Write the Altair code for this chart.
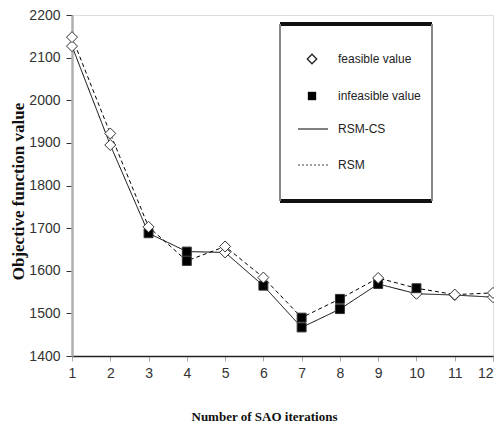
import altair as alt
import pandas as pd

iterations = list(range(1, 13))
rsm_cs_values = [2127, 1895, 1688, 1645, 1643, 1565, 1467, 1510, 1569, 1546, 1543, 1538]
rsm_cs_types = ["feasible", "feasible", "infeasible", "infeasible", "feasible", "infeasible",
                "infeasible", "infeasible", "infeasible", "feasible", "feasible", "feasible"]
rsm_values = [2148, 1922, 1703, 1623, 1657, 1584, 1490, 1534, 1583, 1559, 1544, 1548]
rsm_types = ["feasible", "feasible", "feasible", "infeasible", "feasible", "feasible",
             "infeasible", "infeasible", "feasible", "infeasible", "feasible", "feasible"]
series_names = ["RSM-CS", "RSM"]
legend_labels = ["feasible value", "infeasible value", "RSM-CS", "RSM"]
x_ticks = list(range(1, 13))
y_ticks = list(range(1400, 2201, 100))

rows = []
for it, v, t in zip(iterations, rsm_cs_values, rsm_cs_types):
    rows.append({"iter": it, "value": v, "series": "RSM-CS", "type": t})
for it, v, t in zip(iterations, rsm_values, rsm_types):
    rows.append({"iter": it, "value": v, "series": "RSM", "type": t})
df = pd.DataFrame(rows)

W, H = 421, 341

x_axis = alt.Axis(values=x_ticks, tickCount=12, title="Number of  SAO iterations", grid=False,
                  format="d", labelOverlap=False, labelFlush=False, labelBound=False,
                  labelAlign={"condition": {"test": "datum.value == 12", "value": "right"}, "value": "center"},
                  domainColor="#222", domainWidth=1.5, tickColor="#aaa", tickSize=5,
                  labelFontSize=14, labelColor="#333", labelFont="Liberation Sans",
                  labelPadding=5,
                  titleFont="Liberation Serif", titleFontWeight="bold", titleFontSize=13,
                  titleColor="#111", titleX=192, titleY=60, titleBaseline="middle")
y_axis = alt.Axis(values=y_ticks, title="Objective  function  value", grid=False,
                  format="d", labelOverlap=False,
                  domainColor="#b0b0b0", domainWidth=2.5, tickColor="#333", tickSize=6,
                  labelFontSize=14, labelColor="#333", labelFont="Liberation Sans",
                  labelPadding=6,
                  titleFont="Liberation Serif", titleFontWeight="bold", titleFontSize=17,
                  titleColor="#111", titleX=-54, titleY=176, titleAngle=270,
                  titleBaseline="middle", titleAlign="center")
x_scale = alt.Scale(domain=[1, 12], nice=False, zero=False)
y_scale = alt.Scale(domain=[1400, 2200], nice=False, zero=False)

lines = alt.Chart(df).mark_line(color="black", strokeWidth=1).encode(
    x=alt.X("iter:Q", scale=x_scale, axis=x_axis),
    y=alt.Y("value:Q", scale=y_scale, axis=y_axis),
    strokeDash=alt.StrokeDash("series:N", scale=alt.Scale(domain=series_names, range=[[1, 0], [4, 3]]),
                              legend=None),
    detail="series:N",
    order="iter:Q",
)

points = alt.Chart(df).mark_point(filled=True, stroke="#333", strokeWidth=1, opacity=1).encode(
    x=alt.X("iter:Q", scale=x_scale, axis=x_axis),
    y=alt.Y("value:Q", scale=y_scale, axis=y_axis),
    shape=alt.Shape("type:N", scale=alt.Scale(domain=["feasible", "infeasible"], range=["diamond", "square"]),
                    legend=None),
    fill=alt.Fill("type:N", scale=alt.Scale(domain=["feasible", "infeasible"], range=["white", "black"]),
                  legend=None),
    size=alt.Size("type:N", scale=alt.Scale(domain=["feasible", "infeasible"], range=[121, 80]),
                  legend=None),
)

# legend box
bx0, bx1, by0, by1 = 208, 360, 9, 186
box_bg = alt.Chart(df).mark_rect(fill="white").encode(
    x=alt.value(bx0), x2=alt.value(bx1), y=alt.value(by0), y2=alt.value(by1))
box_top = alt.Chart(df).mark_rule(color="#111", strokeWidth=3).encode(
    x=alt.value(bx0), x2=alt.value(bx1), y=alt.value(by0))
box_bot = alt.Chart(df).mark_rule(color="#111", strokeWidth=3).encode(
    x=alt.value(bx0), x2=alt.value(bx1), y=alt.value(by1))
box_l = alt.Chart(df).mark_rule(color="#888", strokeWidth=2).encode(
    x=alt.value(bx0), y=alt.value(by0), y2=alt.value(by1))
box_r = alt.Chart(df).mark_rule(color="#888", strokeWidth=2).encode(
    x=alt.value(bx1), y=alt.value(by0), y2=alt.value(by1))

leg_df = pd.DataFrame({"label": legend_labels})
ys = [44, 81, 114, 150]
leg_sym1 = alt.Chart(leg_df).transform_filter(alt.datum.label == legend_labels[0]).mark_point(
    shape="diamond", filled=True, fill="white", stroke="#222", strokeWidth=1.3, size=90, opacity=1).encode(
    x=alt.value(240), y=alt.value(ys[0]))
leg_sym2 = alt.Chart(leg_df).transform_filter(alt.datum.label == legend_labels[1]).mark_point(
    shape="square", filled=True, fill="black", size=70, opacity=1).encode(
    x=alt.value(240), y=alt.value(ys[1]))
leg_l1 = alt.Chart(leg_df).transform_filter(alt.datum.label == legend_labels[2]).mark_rule(
    color="black", strokeWidth=1).encode(x=alt.value(226), x2=alt.value(256), y=alt.value(ys[2]))
leg_l2 = alt.Chart(leg_df).transform_filter(alt.datum.label == legend_labels[3]).mark_rule(
    color="#444", strokeWidth=1, strokeDash=[2, 2]).encode(x=alt.value(226), x2=alt.value(256), y=alt.value(ys[3]))

leg_texts = []
for lab, yy in zip(legend_labels, ys):
    leg_texts.append(
        alt.Chart(leg_df).transform_filter(alt.datum.label == lab).mark_text(
            align="left", baseline="middle", font="Liberation Sans", fontSize=12, color="#222").encode(
            x=alt.value(266), y=alt.value(yy), text="label:N"))

chart = alt.layer(lines, points, box_bg, box_top, box_bot, box_l, box_r,
                  leg_sym1, leg_sym2, leg_l1, leg_l2, *leg_texts).properties(
    width=W, height=H,
    autosize=alt.AutoSizeParams(type="none"),
    padding={"left": 64, "top": 7, "right": 1, "bottom": 66},
).configure_view(stroke=None).configure(background="white")

chart.save("out.html", embed_options={"renderer": "svg", "actions": False})
